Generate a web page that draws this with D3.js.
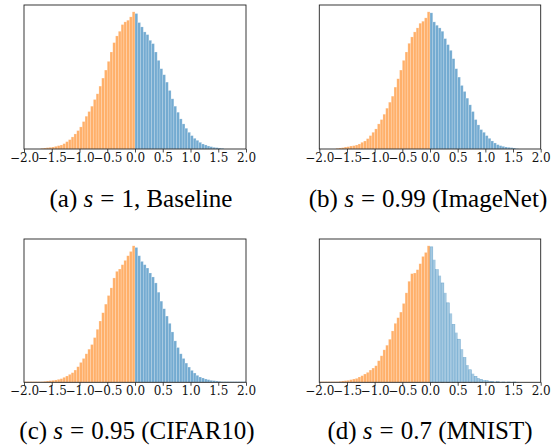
<!DOCTYPE html>
<html>
<head>
<meta charset="utf-8">
<script src="https://cdn.jsdelivr.net/npm/d3@7"></script>
<style>
  html, body { margin: 0; padding: 0; background: #fff; }
  svg { display: block; }
</style>
</head>
<body>
<svg id="chart" width="558" height="445"></svg>
<script>
// ---- data ----
const binStart = -2.0;
const binWidth = 0.05;
const xTicks = [-2.0, -1.5, -1.0, -0.5, 0.0, 0.5, 1.0, 1.5, 2.0];

const countsA = [0,0,0,0,0,0, 2,3,4,5,6,8,10,12,16,22,28,36,45,55,66,82,98,112,128,148,165,188,212,236,262,290,318,338,352,372,380,385,395,410,
  405,378,365,350,342,325,315,290,265,240,222,200,175,150,128,110,90,75,62,50,40,32,26,20,15,12,9,7,5,4,3,2, 0,0,0,0,0,0,0,0];
const countsB = [0,0,0,0,0,0, 2,3,4,6,7,9,10,12,15,20,24,31,40,50,60,75,88,104,122,140,158,185,210,236,265,290,316,335,350,362,376,382,392,410,
  407,380,370,362,352,330,312,295,270,240,215,190,172,152,132,112,88,72,58,50,40,32,24,18,13,10,8,6,5,4,3,1, 0,0,0,0,0,0,0,0];
const countsC = [2,2,2,2,2,2, 2,3,4,5,6,7,9,11,15,19,24,29,37,47,60,72,86,100,114,135,160,185,210,236,262,285,315,335,342,355,368,382,395,412,
  407,382,365,355,345,330,318,300,272,245,222,200,178,152,125,105,86,72,58,46,36,28,21,16,13,10,8,6,5,4,3,2, 2,2,2,2,2,2,2,2];
const countsD = [2,2,2,2,2,2, 2,3,4,5,6,8,10,12,16,20,25,30,37,43,50,65,80,98,112,130,155,178,195,212,238,270,305,328,330,340,358,380,392,412,
  409,370,340,322,300,270,240,208,175,150,130,100,75,52,38,26,18,13,9,7,5,4,3,2,2,1,1,1,1,1,1,1, 0,0,0,0,0,0,0,0];

const captionLabels = ["(a)", "(b)", "(c)", "(d)"];
const captionValues = ["1,", "0.99", "0.95", "0.7"];
const captionNames = ["Baseline", "(ImageNet)", "(CIFAR10)", "(MNIST)"];

// ---- layout ----
const panels = [
  { counts: countsA, x0: 24,    x1: 246,   y0: 5,   y1: 149,   cap: [141, 207], lightBlue: false },
  { counts: countsB, x0: 319.3, x1: 540.7, y0: 5,   y1: 149,   cap: [428, 207], lightBlue: false },
  { counts: countsC, x0: 24,    x1: 246,   y0: 239, y1: 382.3, cap: [137, 439], lightBlue: false },
  { counts: countsD, x0: 319.3, x1: 540.7, y0: 239, y1: 382.3, cap: [430, 439], lightBlue: true }
];

const svg = d3.select("#chart");
const orange = "#ff7f0e", blue = "#1f77b4";

panels.forEach((p, pi) => {
  const x = d3.scaleLinear().domain([-2, 2]).range([p.x0, p.x1]);
  const y = d3.scaleLinear().domain([0, d3.max(p.counts) * 1.05]).range([p.y1, p.y0]);
  const g = svg.append("g");

  const bins = p.counts.map((c, i) => ({ lo: binStart + i * binWidth, hi: binStart + (i + 1) * binWidth, c, i }));

  g.selectAll("rect.bar").data(bins.filter(b => b.c > 0)).join("rect")
    .attr("class", "bar")
    .attr("x", b => x(b.lo))
    .attr("width", b => x(b.hi) - x(b.lo))
    .attr("y", b => y(b.c))
    .attr("height", b => y(0) - y(b.c))
    .attr("fill", b => (b.lo < 0 ? orange : blue))
    .attr("fill-opacity", b => (b.lo >= 0 && p.lightBlue) ? 0.4 : 0.62)
    .attr("stroke", b => (b.lo >= 0 && p.lightBlue) ? (b.i % 2 === 0 ? blue : "none") : "#fff")
    .attr("stroke-opacity", b => (b.lo >= 0 && p.lightBlue) ? 0.45 : 0.35)
    .attr("stroke-width", 0.6);

  // frame
  g.append("rect")
    .attr("x", p.x0).attr("y", p.y0)
    .attr("width", p.x1 - p.x0).attr("height", p.y1 - p.y0)
    .attr("fill", "none").attr("stroke", "#222").attr("stroke-width", 0.9);

  // x axis
  const ax = g.append("g").attr("transform", `translate(0,${p.y1})`)
    .call(d3.axisBottom(x).tickValues(xTicks).tickFormat(d3.format(".1f")).tickSize(3.5).tickPadding(0.5));
  ax.select(".domain").remove();
  ax.selectAll(".tick line").attr("stroke", "#222").attr("stroke-width", 0.8);
  ax.selectAll(".tick text")
    .attr("fill", "#111")
    .style("font-family", "'DejaVu Serif', serif")
    .style("font-size", "12px");

  // caption (math-style spacing around "=")
  const fs = 25;
  const t = svg.append("text")
    .attr("x", p.cap[0]).attr("y", p.cap[1])
    .attr("text-anchor", "middle")
    .style("font-family", "'Liberation Serif', 'Times New Roman', serif")
    .style("font-size", fs + "px")
    .attr("fill", "#000");
  t.append("tspan").text(captionLabels[pi] + " ");
  t.append("tspan").style("font-style", "italic").text("s");
  t.append("tspan").attr("dx", fs * 0.28).text("=");
  t.append("tspan").attr("dx", fs * 0.28).text(captionValues[pi]);
  t.append("tspan").text(" " + captionNames[pi]);
});
</script>
</body>
</html>
